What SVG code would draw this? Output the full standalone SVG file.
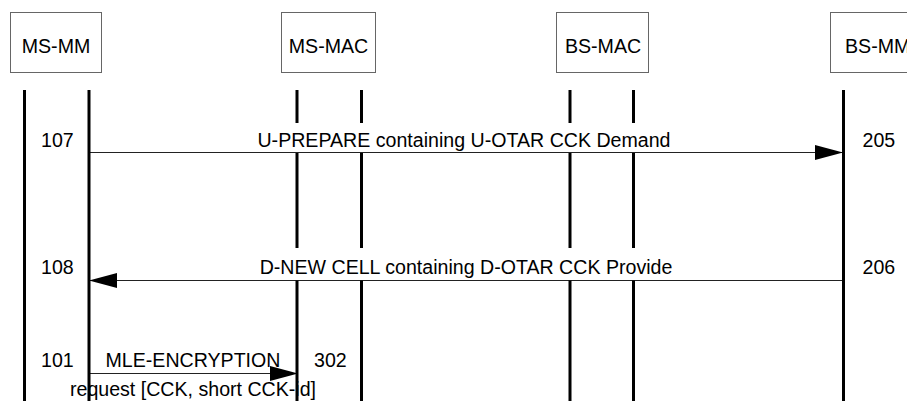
<svg xmlns="http://www.w3.org/2000/svg" width="907" height="401" viewBox="0 0 907 401">
<style>
text{font-family:"Liberation Sans",Arial,sans-serif;font-size:19.6px;fill:#000}
.box{fill:#fff;stroke:#666;stroke-width:1}
.life{stroke:#000;stroke-width:3;fill:none}
.msg{stroke:#222;stroke-width:1;fill:none}
.mid{text-anchor:middle}
</style>
<defs>
<marker id="ah" markerUnits="userSpaceOnUse" markerWidth="28" markerHeight="16" refX="28" refY="7.5" orient="auto">
<path d="M0,0 L28,7.5 L0,15 z" fill="#000"/>
</marker>
</defs>
<rect width="907" height="401" fill="#fff"/>
<g id="connectors">
<g id="m1">
<line class="msg" x1="89" y1="152.5" x2="843" y2="152.5" marker-end="url(#ah)"/>
<text class="mid" x="464" y="147">U-PREPARE containing U-OTAR CCK Demand</text>
<text x="41" y="147">107</text>
<text x="862.5" y="147">205</text>
</g>
<g id="m2">
<line class="msg" x1="843" y1="280.5" x2="89" y2="280.5" marker-end="url(#ah)"/>
<text class="mid" x="466" y="273.5">D-NEW CELL containing D-OTAR CCK Provide</text>
<text x="41" y="273.5">108</text>
<text x="862.5" y="273.5">206</text>
</g>
<g id="m3">
<line class="msg" x1="89" y1="373.5" x2="298" y2="373.5" marker-end="url(#ah)"/>
<text class="mid" x="193" y="367">MLE-ENCRYPTION</text>
<text class="mid" x="193" y="396">request [CCK, short CCK-id]</text>
<text x="41" y="367">101</text>
<text x="314" y="367">302</text>
</g>
</g>
<g id="ms-mm">
<rect class="box" x="10.5" y="12.5" width="91" height="60"/>
<text class="mid" x="56" y="53">MS-MM</text>
<line class="life" x1="24.5" y1="90" x2="24.5" y2="401"/>
<line class="life" x1="89" y1="90" x2="89" y2="401"/>
</g>
<g id="ms-mac">
<rect class="box" x="281.5" y="12.5" width="94" height="60"/>
<text class="mid" x="328.5" y="53">MS-MAC</text>
<path class="life" d="M297,90V123M297,153V248M297,280.5V401M361.5,90V123M361.5,153V248M361.5,280.5V401"/>
</g>
<g id="bs-mac">
<rect class="box" x="556.5" y="12.5" width="92" height="60"/>
<text class="mid" x="603" y="53">BS-MAC</text>
<path class="life" d="M570,90V123M570,153V248M570,280.5V401M633.5,90V123M633.5,153V248M633.5,280.5V401"/>
</g>
<g id="bs-mm">
<rect class="box" x="830.5" y="12.5" width="94" height="60"/>
<text x="845" y="53">BS-MM</text>
<line class="life" x1="843.5" y1="90" x2="843.5" y2="401"/>
</g>
</svg>
